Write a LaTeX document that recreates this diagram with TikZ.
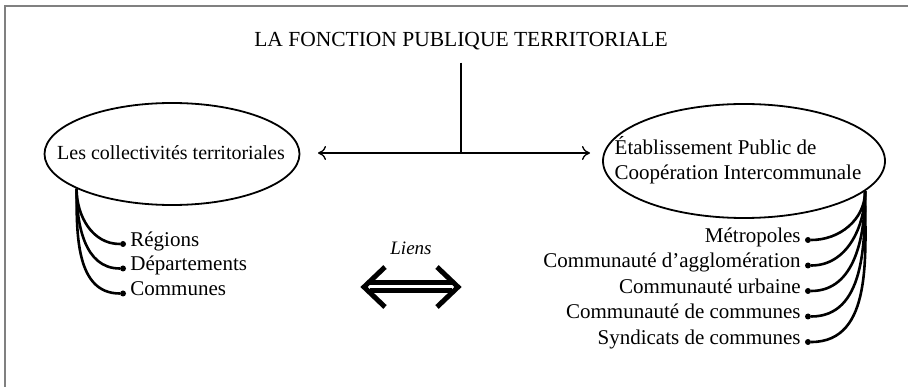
\documentclass[tikz,border=0pt]{standalone}
\usepackage{fontspec}
\setmainfont{Liberation Serif}
\usetikzlibrary{shapes.geometric,arrows.meta,positioning}
\tikzset{
  bulle/.style={ellipse,draw,line width=1.8pt,inner sep=0pt},
  texte/.style={font=\fontsize{21}{25}\selectfont,inner sep=0pt},
  point/.style={circle,fill,inner sep=0pt,minimum size=6pt},
  souslabel/.style={font=\fontsize{21}{25}\selectfont,inner sep=0pt,text height=0.7em,text depth=0.24em},
  branche/.style={line width=2.6pt},
  fleche/.style={line width=1.3pt,{To[length=8pt,width=14pt]}-{To[length=8pt,width=14pt]}},
  doublefleche/.style={line width=5pt,double distance=3pt,shorten <=6pt,shorten >=6pt},
  chevron/.style={line width=5pt,line join=miter}
}
\begin{document}
\begin{tikzpicture}[x=1pt,y=1pt]
  \useasboundingbox (0,0) rectangle (908,-387);
  \draw[gray,line width=1.6pt] (5,-387) -- (5,-6) -- (908,-6);
  \node[texte,font=\fontsize{21.5}{25}\selectfont,anchor=base] (titre) at (461,-47) {LA FONCTION PUBLIQUE TERRITORIALE};
  \node[bulle,minimum width=255pt,minimum height=102pt] (coll) at (172,-154) {};
  \node[texte,font=\fontsize{20}{24}\selectfont] (colltxt) at (171,-153) {Les collectivités territoriales};
  \node[bulle,minimum width=282pt,minimum height=114pt] (epci) at (744,-161) {};
  \node[texte,align=left] (epcitxt) at (738,-160) {Établissement Public de\\Coopération Intercommunale};
  \coordinate (gauche) at (318,-153);
  \coordinate (droite) at (590,-153);
  \draw[fleche] (gauche) -- (droite);
  \draw[line width=1.8pt,shorten <=12pt] (titre.south) -- (titre.south |- gauche);
  \node[font=\fontsize{19}{22}\selectfont\itshape,inner sep=0pt] (liens) at (411,-248) {Liens};
  \coordinate (liensg) at (364,-287);
  \coordinate (liensd) at (458,-287);
  \draw[doublefleche] (liensg) -- (liensd);
  \draw[chevron] ([shift={(21,20)}]liensg) -- (liensg) -- ([shift={(21,-20)}]liensg);
  \draw[chevron] ([shift={(-21,20)}]liensd) -- (liensd) -- ([shift={(-21,-20)}]liensd);
  % branches gauche
  \node[point] (reg) at (123,-244) {};
  \node[point] (dep) at (123,-268.5) {};
  \node[point] (com) at (123,-293.5) {};
  \node[souslabel,right=4pt of reg] (regtxt) {Régions};
  \node[souslabel,right=4pt of dep] (deptxt) {Départements};
  \node[souslabel,right=4pt of com] (comtxt) {Communes};
  % branches droite
  \node[point] (metro) at (808,-240) {};
  \node[point] (agglo) at (808,-265.5) {};
  \node[point] (urb) at (808,-291) {};
  \node[point] (cc) at (808,-316.5) {};
  \node[point] (synd) at (808,-342) {};
  \node[souslabel,left=4pt of metro] (metrotxt) {Métropoles};
  \node[souslabel,left=4pt of agglo] (agglotxt) {Communauté d’agglomération};
  \node[souslabel,left=4pt of urb] (urbtxt) {Communauté urbaine};
  \node[souslabel,left=4pt of cc] (cctxt) {Communauté de communes};
  \node[souslabel,left=4pt of synd] (syndtxt) {Syndicats de communes};
  \begin{scope}[branche]
    \draw (coll.200) to[out=-90,in=180] (reg);
    \draw (coll.200) to[out=-90,in=180] (dep);
    \draw (coll.200) to[out=-90,in=180] (com);
    \draw (epci.-14) to[out=-90,in=0] (metro);
    \draw (epci.-14) to[out=-90,in=0] (agglo);
    \draw (epci.-14) to[out=-90,in=0] (urb);
    \draw (epci.-14) to[out=-90,in=0] (cc);
    \draw (epci.-14) to[out=-90,in=0] (synd);
  \end{scope}
\end{tikzpicture}
\end{document}
